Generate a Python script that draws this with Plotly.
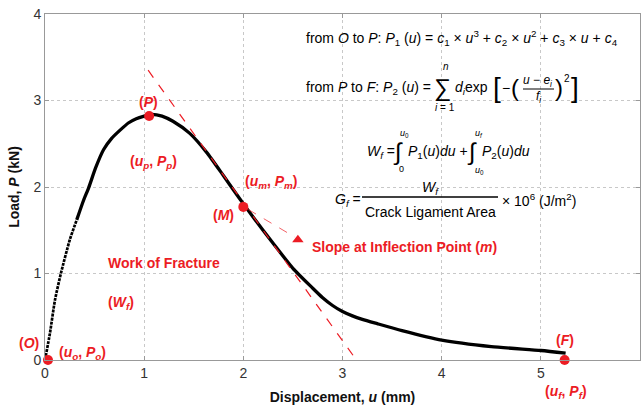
import plotly.graph_objects as go

# ---- data ----
rise_u = [0.0, 0.05, 0.10, 0.16, 0.25, 0.32]
rise_p = [0.0, 0.31, 0.69, 1.0, 1.39, 1.62]
main_u = [0.32, 0.39, 0.44, 0.51, 0.59, 0.67, 0.76, 0.84, 0.92, 1.0, 1.07, 1.18,
          1.29, 1.46, 1.63, 1.80, 1.96, 2.10, 2.30, 2.50, 2.70, 2.80, 2.90, 3.0,
          3.1, 3.2, 3.35, 3.6, 4.0, 4.5, 5.0, 5.25]
main_p = [1.62, 1.85, 1.99, 2.22, 2.43, 2.56, 2.66, 2.74, 2.79, 2.82, 2.84, 2.82,
          2.76, 2.62, 2.40, 2.13, 1.87, 1.65, 1.35, 1.06, 0.83, 0.72, 0.63, 0.56,
          0.51, 0.47, 0.42, 0.34, 0.23, 0.155, 0.11, 0.08]
key_u = [0.03, 1.05, 2.0, 5.24]
key_p = [0.0, 2.82, 1.77, 0.0]
tan_u = [1.04, 3.14]
tan_p = [3.35, 0.0]
ptr_u = [2.05, 2.52]
ptr_p = [1.74, 1.42]
arrow_u = [2.55]
arrow_p = [1.39]
x_ticks = [0, 1, 2, 3, 4, 5, 6]
y_ticks = [0, 1, 2, 3, 4]
X_MAX = 6
Y_MAX = 4

RED = "rgb(236,28,36)"
FONT = "Liberation Sans, Arial, sans-serif"

fig = go.Figure()
fig.add_trace(go.Scatter(x=rise_u, y=rise_p, mode="lines",
                         line=dict(color="black", width=2.7, dash="3px,1px", shape="spline", smoothing=0.6),
                         cliponaxis=False, showlegend=False))
fig.add_trace(go.Scatter(x=main_u, y=main_p, mode="lines",
                         line=dict(color="black", width=3.3, shape="spline", smoothing=0.6),
                         cliponaxis=False, showlegend=False))
fig.add_trace(go.Scatter(x=tan_u, y=tan_p, mode="lines",
                         line=dict(color=RED, width=1.2, dash="dash"),
                         cliponaxis=False, showlegend=False))
fig.add_trace(go.Scatter(x=ptr_u, y=ptr_p, mode="lines",
                         line=dict(color="rgba(236,28,36,0.7)", width=1, dash="dash"),
                         cliponaxis=False, showlegend=False))
fig.add_trace(go.Scatter(x=arrow_u, y=arrow_p, mode="markers",
                         marker=dict(color=RED, size=10, symbol="triangle-up"),
                         cliponaxis=False, showlegend=False))
fig.add_trace(go.Scatter(x=key_u, y=key_p, mode="markers",
                         marker=dict(color=RED, size=10),
                         cliponaxis=False, showlegend=False))

# pixel -> paper helpers (plot area: x 45..640, y 14..360)
def px(v):
    return (v - 45) / 595.0

def py(v):
    return (360 - v) / 346.0

ann = []

def txt(x, y, s, size=14, color="black", xanchor="left"):
    ann.append(dict(x=px(x), y=py(y), xref="paper", yref="paper", text=s,
                    showarrow=False, xanchor=xanchor, yanchor="middle",
                    font=dict(size=size, color=color, family=FONT)))

# red labels placed in data units (converted to paper so they may sit outside the axes)
def rlab(u, p, s, xanchor="center"):
    ann.append(dict(x=u / X_MAX, y=p / Y_MAX, xref="paper", yref="paper",
                    text="<b>" + s + "</b>", showarrow=False, xanchor=xanchor,
                    yanchor="middle", font=dict(size=14, color=RED, family=FONT)))

rlab(1.04, 2.98, "(<i>P</i>)")
rlab(1.09, 2.29, "(<i>u<sub>p</sub></i>, <i>P<sub>p</sub></i>)")
rlab(2.28, 2.06, "(<i>u<sub>m</sub></i>, <i>P<sub>m</sub></i>)")
rlab(1.80, 1.68, "(<i>M</i>)")
rlab(2.67, 1.31, "Slope at Inflection Point (<i>m</i>)", xanchor="left")
rlab(0.62, 1.12, "Work of Fracture", xanchor="left")
rlab(0.62, 0.66, "(<i>W<sub>f</sub></i>)", xanchor="left")
rlab(-0.16, 0.20, "(<i>O</i>)")
rlab(0.12, 0.08, "(<i>u<sub>o</sub></i>, <i>P<sub>o</sub></i>)", xanchor="left")
rlab(5.24, 0.23, "(<i>F</i>)")
rlab(5.25, -0.37, "(<i>u<sub>f</sub></i>, <i>P<sub>f</sub></i>)")

# formula line 1
txt(304, 38, "from <i>O</i> to <i>P</i>: <i>P</i><sub>1</sub> (<i>u</i>) = <i>c</i><sub>1</sub> × <i>u</i><sup>3</sup>"
             " + <i>c</i><sub>2</sub> × <i>u</i><sup>2</sup> + <i>c</i><sub>3</sub> × <i>u</i> + <i>c</i><sub>4</sub>")
# formula line 2
txt(304, 88, "from <i>P</i> to <i>F</i>: <i>P</i><sub>2</sub> (<i>u</i>) =")
txt(442, 88, "∑", size=24, xanchor="center")
txt(446, 67, "<i>n</i>", size=10, xanchor="center")
txt(445, 107, "<i>i</i> = 1", size=10, xanchor="center")
txt(453, 88, "<i>d<sub>i</sub></i>exp")
txt(497, 87, "[", size=28, xanchor="center")
txt(506, 88, "−", xanchor="center")
txt(515, 87, "(", size=24, xanchor="center")
txt(538, 81, "<i>u</i> − <i>e<sub>i</sub></i>", size=12, xanchor="center")
txt(539, 97, "<i>f<sub>i</sub></i>", size=12, xanchor="center")
txt(559, 87, ")", size=24, xanchor="center")
txt(567, 78, "2", size=10, xanchor="center")
txt(575, 87, "]", size=28, xanchor="center")

# W_f formula
txt(365, 152, "<i>W<sub>f</sub></i> =")
txt(398, 152, "∫", size=24, xanchor="center")
txt(404, 133, "<i>u</i><sub>0</sub>", size=9, xanchor="center")
txt(401, 169, "0", size=9, xanchor="center")
txt(406, 152, "<i>P</i><sub>1</sub>(<i>u</i>)<i>du</i> +")
txt(472, 152, "∫", size=24, xanchor="center")
txt(479, 133, "<i>u<sub>f</sub></i>", size=9, xanchor="center")
txt(479, 170, "<i>u</i><sub>0</sub>", size=9, xanchor="center")
txt(480, 152, "<i>P</i><sub>2</sub>(<i>u</i>)<i>du</i>")

# G_f formula
txt(333, 200, "<i>G<sub>f</sub></i> =")
txt(430, 188, "<i>W<sub>f</sub></i>", xanchor="center")
txt(430, 212, "Crack Ligament Area", xanchor="center")
txt(500, 200, "× 10<sup>6</sup> (J/m<sup>2</sup>)")

shapes = [dict(type="line", xref="paper", yref="paper", x0=px(362), x1=px(498),
               y0=py(197), y1=py(197), line=dict(color="black", width=1.3)),
          dict(type="line", xref="paper", yref="paper", x0=px(523), x1=px(554),
               y0=py(89), y1=py(89), line=dict(color="black", width=1))]

axis_common = dict(showgrid=True, gridcolor="#c8c8c8", griddash="dot", gridwidth=1,
                   showline=True, linecolor="#999999", linewidth=1, mirror="ticks",
                   ticks="inside", ticklen=4, tickcolor="#999999", zeroline=False,
                   tickfont=dict(size=14, color="#333333", family=FONT))

fig.update_layout(
    width=641, height=410,
    margin=dict(l=45, r=1, t=14, b=50),
    plot_bgcolor="white", paper_bgcolor="white",
    font=dict(family=FONT, size=14, color="black"),
    xaxis=dict(range=[0, X_MAX], tickvals=x_ticks,
               title=dict(text="<b>Displacement, <i>u</i> (mm)</b>", standoff=12,
                          font=dict(size=14, color="#111111")),
               **axis_common),
    yaxis=dict(range=[0, Y_MAX], tickvals=y_ticks,
               title=dict(text="<b>Load, <i>P</i> (kN)</b>", standoff=10,
                          font=dict(size=14, color="#111111")),
               **axis_common),
    annotations=ann, shapes=shapes,
)

fig.write_html("out.html")
